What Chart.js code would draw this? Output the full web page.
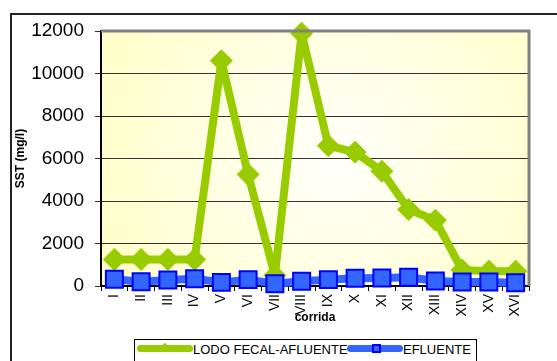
<!DOCTYPE html>
<html>
<head>
<meta charset="utf-8">
<script src="https://cdn.jsdelivr.net/npm/chart.js@4"></script>
<style>
  html, body { margin: 0; padding: 0; background: #fff; }
  #wrap { position: relative; width: 557px; height: 361px; overflow: hidden; font-family: Arial, "Liberation Sans", sans-serif; }
  #frame { position: absolute; left: 10px; top: 13px; width: 600px; height: 400px; border-left: 2px solid #222; border-top: 2px solid #222; }
  #chart { position: absolute; left: 0; top: 0; }
  #legend { position: absolute; left: 134px; top: 339px; width: 341px; height: 40px; border: 1px solid #000; background: #fff; }
  .sample { position: absolute; height: 7px; border-radius: 4px; top: 5px; }
  .lbl { position: absolute; top: 2px; font-size: 13px; line-height: 16px; color: #000; white-space: nowrap; }
</style>
</head>
<body>
<div id="wrap">
  <div id="frame"></div>
  <canvas id="chart" width="557" height="361"></canvas>
  <div id="legend">
    <div class="sample" style="left:2px;width:56px;background:#99cc00;"></div>
    <div style="position:absolute;left:27px;top:4px;width:6px;height:6px;background:#99cc00;transform:rotate(45deg);"></div>
    <span class="lbl" style="left:58px;">LODO FECAL-AFLUENTE</span>
    <div class="sample" style="left:212px;width:56px;background:#3366ff;"></div>
    <div style="position:absolute;left:237px;top:4px;width:5px;height:5px;background:#3366ff;border:2px solid #0000ff;"></div>
    <span class="lbl" style="left:268px;">EFLUENTE</span>
  </div>
</div>
<script>
// Datos por corrida
const corridas = ["I", "II", "III", "IV", "V", "VI", "VII", "VIII", "IX", "X", "XI", "XII", "XIII", "XIV", "XV", "XVI"];
const lodoFecalAfluente = [1250, 1250, 1250, 1250, 10600, 5250, 500, 11900, 6600, 6300, 5400, 3600, 3100, 750, 700, 700];
const efluente = [315, 200, 280, 345, 170, 300, 110, 220, 300, 360, 375, 410, 235, 190, 190, 155];
const yTicks = [0, 2000, 4000, 6000, 8000, 10000, 12000];

// fondo amarillo del area de trazado + borde gris arriba/derecha
const plotBg = {
  id: "plotBg",
  beforeDraw(chart) {
    const { ctx, chartArea: a } = chart;
    const cx = (a.left + a.right) / 2 + 20;
    const cy = (a.top + a.bottom) / 2;
    const g = ctx.createRadialGradient(cx, cy, 10, cx, cy, 280);
    g.addColorStop(0, "#fffff8");
    g.addColorStop(1, "#ffffc4");
    ctx.save();
    ctx.fillStyle = g;
    ctx.fillRect(a.left, a.top, a.right - a.left, a.bottom - a.top);
    ctx.restore();
  },
  afterDatasetsDraw(chart) {
    const { ctx, chartArea: a } = chart;
    ctx.save();
    ctx.strokeStyle = "#808080";
    ctx.lineWidth = 3;
    ctx.beginPath();
    ctx.moveTo(a.left, a.top);
    ctx.lineTo(a.right, a.top);
    ctx.lineTo(a.right, a.bottom);
    ctx.stroke();
    ctx.restore();
  },
};

const ctx = document.getElementById("chart").getContext("2d");
new Chart(ctx, {
  type: "line",
  data: {
    labels: corridas,
    datasets: [
      {
        label: "LODO FECAL-AFLUENTE",
        data: lodoFecalAfluente,
        borderColor: "#99cc00",
        backgroundColor: "#99cc00",
        borderWidth: 8,
        borderJoinStyle: "round",
        pointStyle: "rectRot",
        pointRadius: 11,
        pointBorderWidth: 1,
        tension: 0,
        clip: false,
        order: 2,
      },
      {
        label: "EFLUENTE",
        data: efluente,
        borderColor: "#3366ff",
        backgroundColor: "#3366ff",
        pointBorderColor: "#0000ff",
        borderWidth: 8,
        borderJoinStyle: "round",
        pointStyle: "rect",
        pointRadius: 12,
        pointBorderWidth: 2,
        tension: 0,
        clip: false,
        order: 1,
      },
    ],
  },
  options: {
    responsive: false,
    devicePixelRatio: 1,
    animation: false,
    layout: { padding: { top: 31, right: 28, left: 0, bottom: 28 } },
    plugins: {
      legend: { display: false },
      tooltip: { enabled: false },
    },
    scales: {
      x: {
        offset: true,
        grid: { offset: true, drawOnChartArea: false, tickLength: 5, color: "#000" },
        border: { color: "#000", width: 2 },
        ticks: {
          minRotation: 90,
          maxRotation: 90,
          padding: 3,
          color: "#000",
          font: { family: "Arial", size: 14 },
        },
        title: {
          display: true,
          text: "corrida",
          color: "#000",
          font: { family: "Arial", size: 12, weight: "bold" },
          padding: { top: 0, bottom: 8 },
        },
        afterFit(scale) { scale.height = 47; },
      },
      y: {
        min: 0,
        max: 12000,
        afterBuildTicks(scale) { scale.ticks = yTicks.map((v) => ({ value: v })); },
        grid: { color: "#333", tickLength: 6 },
        border: { color: "#000", width: 2 },
        ticks: {
          padding: 11,
          color: "#000",
          font: { family: "Arial", size: 19 },
          callback: (v) => String(v),
        },
        title: {
          display: true,
          text: "SST (mg/l)",
          color: "#000",
          font: { family: "Arial", size: 12, weight: "bold" },
          padding: { top: 13, bottom: 0 },
        },
        afterFit(scale) { scale.width = 101; },
      },
    },
  },
  plugins: [plotBg],
});
</script>
</body>
</html>
